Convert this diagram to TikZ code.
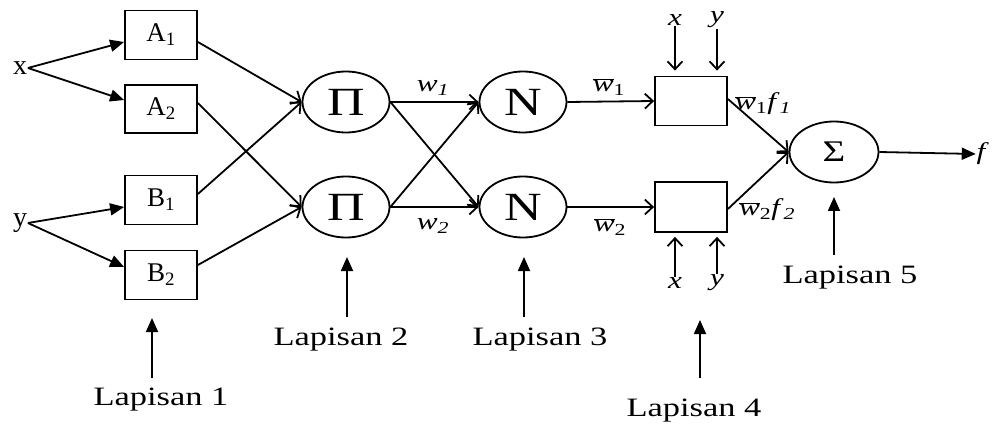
\documentclass[tikz,border=0pt]{standalone}
\usepackage{fontspec}
\setmainfont{Liberation Serif}[FakeStretch=1.3]
\newfontfamily\plainf{Liberation Serif}
\usetikzlibrary{shapes.geometric,arrows.meta}
\begin{document}
\begin{tikzpicture}[x=1pt,y=-1pt,line width=1.8pt,
  box/.style={draw,rectangle,minimum width=72pt,minimum height=49pt,inner sep=0pt,font=\plainf\fontsize{27}{30}\selectfont},
  ell/.style={draw,ellipse,minimum width=87pt,minimum height=61pt,inner sep=0pt},
  big/.style={font=\fontsize{40}{44}\selectfont},
  lap/.style={font=\fontsize{26.5}{30}\selectfont,inner sep=0pt,anchor=base},
  lbl/.style={font=\fontsize{24}{28}\selectfont,inner sep=0pt},
  inl/.style={font=\plainf\fontsize{28}{30}\selectfont,inner sep=0pt},
  fa/.style={-{Triangle[length=14pt,width=12pt]}},
  oa/.style={-{Straight Barb[length=8pt,width=15pt]}}]
\useasboundingbox (0,0) rectangle (994,425);

% layer 1
\node[box] (A1) at (161,35) {A\textsubscript{1}};
\node[box,minimum height=48pt] (A2) at (161,109) {A\textsubscript{2}};
\node[box] (B1) at (161,200) {B\textsubscript{1}};
\node[box] (B2) at (161,275) {B\textsubscript{2}};
\node[inl] (xin) at (20,68) {x};
\node[inl] (yin) at (20,223) {y};

\draw[fa] (xin.east) -- ([yshift=-7pt]A1.west);
\draw[fa] (xin.east) -- ([yshift=9pt]A2.west);
\draw[fa] (yin.east) -- ([yshift=-7pt]B1.west);
\draw[fa] (yin.east) -- ([yshift=8pt]B2.west);

% layer 2 & 3
\node[ell,big] (P1) at (346,102) {Π};
\node[ell,big] (P2) at (346,207) {Π};
\node[ell,big] (N1) at (523,102) {N};
\node[ell,big] (N2) at (523,207) {N};

\draw[oa] ([yshift=-7pt]A1.east) -- (P1.west);
\draw[oa] ([yshift=6pt]B1.east) -- (P1.west);
\draw[oa] ([yshift=6pt]A2.east) -- (P2.west);
\draw[oa] ([yshift=10pt]B2.east) -- (P2.west);

\draw[oa] (P1.east) -- (N1.west);
\draw[oa] (P1.east) -- (N2.west);
\draw[oa] (P2.east) -- (N1.west);
\draw[oa] (P2.east) -- (N2.west);
\node[lbl] (w1) at (433,88) {\itshape w\textsubscript{1}};
\node[lbl] (w2) at (433,226) {\itshape w\textsubscript{2}};

% layer 4
\node[box] (R1) at (691,101) {};
\node[box,minimum height=50pt] (R2) at (691,207) {};
\draw[oa] (N1.east) -- (R1.west);
\draw[oa] (N2.east) -- (R2.west);
\node[lbl] (wb1) at (609,87) {$\overline{\mbox{\itshape w}}$\textsubscript{1}};
\node[lbl] (wb2) at (610,227) {$\overline{\mbox{\itshape w}}$\textsubscript{2}};

\node[lbl] (xt) at (675,20) {\itshape x};
\node[lbl] (yt) at (717,20) {\itshape y};
\node[lbl] (xb) at (675,283) {\itshape x};
\node[lbl] (yb) at (717,283) {\itshape y};
\draw[oa,shorten >=5pt] (xt.south) -- (xt.south |- R1.north);
\draw[oa,shorten >=5pt] (yt.south) -- (yt.south |- R1.north);
\draw[oa,shorten >=4pt] (xb.north) -- (xb.north |- R2.south);
\draw[oa,shorten >=4pt] (yb.north) -- (yb.north |- R2.south);

% layer 5
\node[ell,minimum width=89pt,font=\fontsize{30}{34}\selectfont] (S) at (834,152) {Σ};
\draw[oa] ([yshift=2pt]R1.east) -- (S.west);
\draw[oa] ([yshift=-2pt]R2.east) -- (S.west);
\node[lbl] (wf1) at (763,104) {$\overline{\mbox{\itshape w}}$\textsubscript{1}\itshape f\/\textsubscript{1}};
\node[lbl] (wf2) at (767,210) {$\overline{\mbox{\itshape w}}$\textsubscript{2}\itshape f\/\textsubscript{2}};
\node[lbl] (fout) at (981,154) {\itshape f};
\draw[fa] (S.east) -- (fout.west);

% layer labels
\node[lap] (L1) at (161,405) {Lapisan 1};
\node[lap] (L2) at (341,345) {Lapisan 2};
\node[lap] (L3) at (540,345) {Lapisan 3};
\node[lap] (L4) at (694,416) {Lapisan 4};
\node[lap] (L5) at (850,283) {Lapisan 5};
\coordinate (t1) at (152,318);
\coordinate (t2) at (347,257);
\coordinate (t3) at (524,257);
\coordinate (t4) at (700,320);
\coordinate (t5) at (834,197);
\draw[fa] (152,378) coordinate (b1) -- (t1);
\draw[fa] (347,317) coordinate (b2) -- (t2);
\draw[fa] (524,317) coordinate (b3) -- (t3);
\draw[fa] (700,378) coordinate (b4) -- (t4);
\draw[fa] (834,255) coordinate (b5) -- (t5);
\end{tikzpicture}
\end{document}
